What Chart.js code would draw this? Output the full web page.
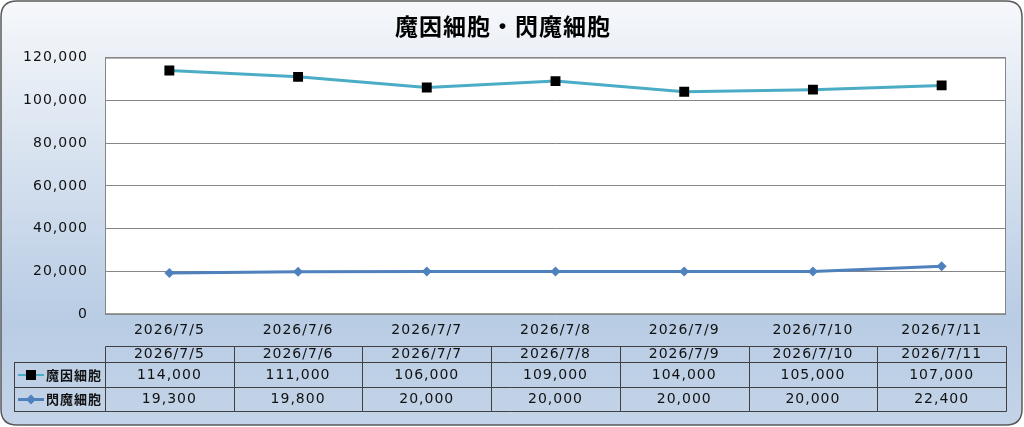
<!DOCTYPE html>
<html>
<head>
<meta charset="utf-8">
<script src="https://cdn.jsdelivr.net/npm/chart.js@4.4.1/dist/chart.umd.min.js"></script>
<style>
  html,body{margin:0;padding:0;background:#ffffff;}
  #wrap{width:1024px;height:427px;position:relative;}
  canvas{display:block;}
</style>
</head>
<body>
<div id="wrap"><canvas id="c" width="1024" height="427"></canvas></div>
<script>
const titleText = "魔因細胞・閃魔細胞";
const categories = ["2026/7/5","2026/7/6","2026/7/7","2026/7/8","2026/7/9","2026/7/10","2026/7/11"];
const seriesNames = ["魔因細胞","閃魔細胞"];
const series1 = [114000,111000,106000,109000,104000,105000,107000];
const series2 = [19300,19800,20000,20000,20000,20000,22400];
const yTicks = [0,20000,40000,60000,80000,100000,120000];

const FONT = "'DejaVu Sans','Noto Sans CJK JP',sans-serif";
const JFONT = "'Noto Sans CJK JP','DejaVu Sans',sans-serif";
const fmt = v => v.toLocaleString('en-US');
const colors = ['#4BACC6','#4F81BD'];
const TXT = '#111111';

function roundRect(ctx,x,y,w,h,r){
  ctx.beginPath();
  ctx.moveTo(x+r,y);
  ctx.lineTo(x+w-r,y);
  ctx.quadraticCurveTo(x+w,y,x+w,y+r);
  ctx.lineTo(x+w,y+h-r);
  ctx.quadraticCurveTo(x+w,y+h,x+w-r,y+h);
  ctx.lineTo(x+r,y+h);
  ctx.quadraticCurveTo(x,y+h,x,y+h-r);
  ctx.lineTo(x,y+r);
  ctx.quadraticCurveTo(x,y,x+r,y);
  ctx.closePath();
}

const spacingPlugin = {
  id:'spacing',
  beforeInit(chart){ try { chart.ctx.letterSpacing = '1px'; } catch(e){} },
  beforeLayout(chart){ try { chart.ctx.letterSpacing = '1px'; } catch(e){} }
};

const bgPlugin = {
  id:'bg',
  beforeDraw(chart){
    const ctx = chart.ctx, W = chart.width, H = chart.height;
    ctx.save();
    const g = ctx.createLinearGradient(0,0,0,H);
    g.addColorStop(0,'#F6F8FB');
    g.addColorStop(0.75,'#B8CCE4');
    g.addColorStop(1,'#C4D4E8');
    roundRect(ctx,1,1,W-3,H-3,16);
    ctx.fillStyle = g;
    ctx.fill();
    ctx.lineWidth = 1.5;
    ctx.strokeStyle = '#5A5A5A';
    ctx.stroke();
    const a = chart.chartArea;
    ctx.fillStyle = '#FFFFFF';
    ctx.fillRect(a.left,a.top,a.right-a.left,a.bottom-a.top);
    ctx.restore();
  },
  beforeDatasetsDraw(chart){
    const ctx = chart.ctx, a = chart.chartArea;
    ctx.save();
    ctx.strokeStyle = '#868686';
    ctx.lineWidth = 1;
    ctx.strokeRect(a.left+0.5,a.top+0.5,a.right-a.left-1,a.bottom-a.top-1);
    ctx.restore();
  }
};

const tablePlugin = {
  id:'dtable',
  afterDraw(chart){
    const ctx = chart.ctx, xs = chart.scales.x;
    const n = categories.length;
    const step = xs.getPixelForValue(1) - xs.getPixelForValue(0);
    const L = 14;
    const edge = i => Math.round(xs.getPixelForValue(i) - step/2) + 0.5;
    const C0 = edge(0), R = edge(n);
    const rows = [346.5, 362.5, 387.5, 411.5];
    ctx.save();
    ctx.strokeStyle = '#404040';
    ctx.lineWidth = 1;
    ctx.beginPath();
    ctx.moveTo(C0, rows[0]); ctx.lineTo(R, rows[0]);
    for (let i=1;i<rows.length;i++){ ctx.moveTo(L, rows[i]); ctx.lineTo(R, rows[i]); }
    ctx.moveTo(L+0.5, rows[1]); ctx.lineTo(L+0.5, rows[3]);
    for (let i=0;i<=n;i++){
      const x = edge(i);
      ctx.moveTo(x, rows[0]); ctx.lineTo(x, rows[3]);
    }
    ctx.stroke();

    ctx.fillStyle = TXT;
    ctx.textAlign = 'center';
    ctx.textBaseline = 'middle';
    ctx.font = '14px ' + FONT;
    for (let i=0;i<n;i++){
      const x = xs.getPixelForValue(i);
      ctx.fillText(categories[i], x, (rows[0]+rows[1])/2 + 0);
      ctx.fillText(fmt(series1[i]), x, (rows[1]+rows[2])/2);
      ctx.fillText(fmt(series2[i]), x, (rows[2]+rows[3])/2);
    }
    const keyRows = [(rows[1]+rows[2])/2, (rows[2]+rows[3])/2];
    for (let s=0;s<2;s++){
      const y = keyRows[s];
      ctx.strokeStyle = colors[s];
      ctx.lineWidth = s===0 ? 2 : 3;
      ctx.beginPath(); ctx.moveTo(18,y); ctx.lineTo(44,y); ctx.stroke();
      if (s===0){
        ctx.fillStyle = '#000';
        ctx.fillRect(26,y-5,10,10);
      } else {
        ctx.fillStyle = colors[1];
        ctx.beginPath();
        ctx.moveTo(31,y-5); ctx.lineTo(36,y); ctx.lineTo(31,y+5); ctx.lineTo(26,y);
        ctx.closePath(); ctx.fill();
      }
      ctx.fillStyle = TXT;
      ctx.textAlign = 'left';
      ctx.font = 'bold 13px ' + JFONT;
      ctx.fillText(seriesNames[s], 46, y);
    }
    ctx.restore();
  }
};

new Chart(document.getElementById('c'), {
  type:'line',
  data:{
    labels: categories,
    datasets:[
      {label: seriesNames[0], data: series1, borderColor: colors[0], borderWidth: 3,
       pointStyle:'rect', pointRadius:7, pointHoverRadius:7, pointBackgroundColor:'#000', pointBorderColor:'#000', pointBorderWidth:0, tension:0},
      {label: seriesNames[1], data: series2, borderColor: colors[1], borderWidth: 3,
       pointStyle:'rectRot', pointRadius:5, pointHoverRadius:5, pointBackgroundColor: colors[1], pointBorderColor: colors[1], pointBorderWidth:0, tension:0}
    ]
  },
  options:{
    responsive:false,
    animation:false,
    devicePixelRatio:1,
    layout:{padding:{left:0,right:18,top:0,bottom:80}},
    plugins:{
      legend:{display:false},
      tooltip:{enabled:false},
      title:{display:true, text:titleText, color:'#000', font:{family:JFONT, size:23, weight:'bold'}, padding:{top:12,bottom:18}}
    },
    scales:{
      x:{
        offset:true,
        grid:{display:false, drawTicks:false, offset:true},
        border:{display:false},
        ticks:{color:TXT, font:{family:FONT, size:14}, padding:8, maxRotation:0, autoSkip:false}
      },
      y:{
        min:0, max:120000,
        afterFit(scale){ scale.width = 105; },
        afterBuildTicks(scale){ scale.ticks = yTicks.map(v=>({value:v})); },
        grid:{color:'#868686', lineWidth:1, drawTicks:false},
        border:{display:false},
        ticks:{color:TXT, font:{family:FONT, size:14}, padding:17, callback:v=>fmt(v)}
      }
    }
  },
  plugins:[spacingPlugin, bgPlugin, tablePlugin]
});
</script>
</body>
</html>
